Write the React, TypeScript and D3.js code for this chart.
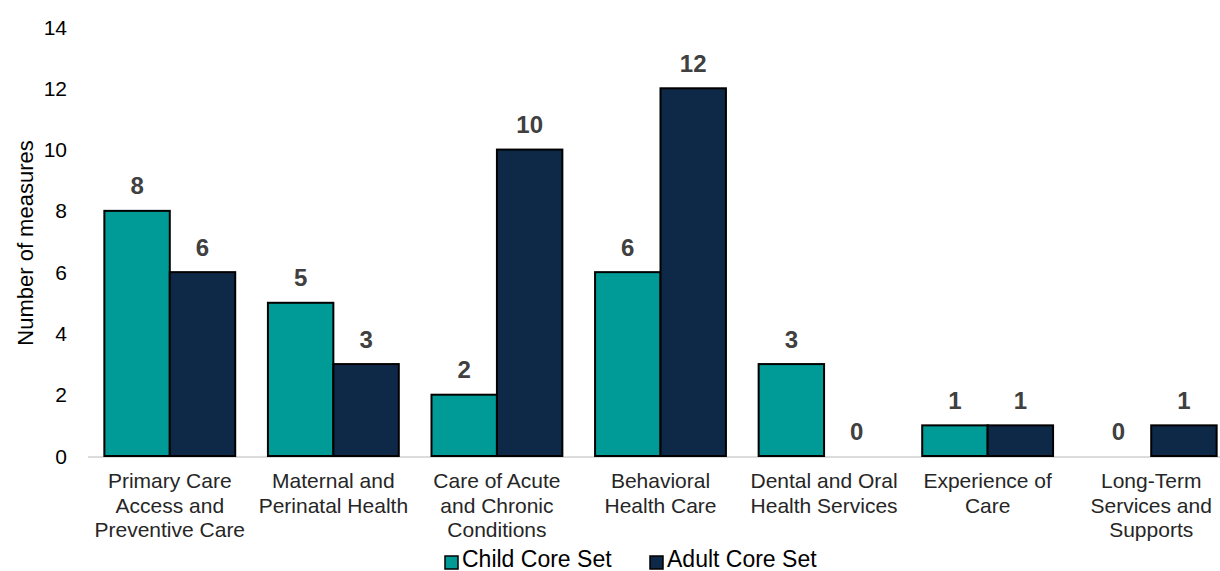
import React from "react";
import * as d3 from "d3";

const categories: string[][] = [
  ["Primary Care", "Access and", "Preventive Care"],
  ["Maternal and", "Perinatal Health"],
  ["Care of Acute", "and Chronic", "Conditions"],
  ["Behavioral", "Health Care"],
  ["Dental and Oral", "Health Services"],
  ["Experience of", "Care"],
  ["Long-Term", "Services and", "Supports"],
];
const childValues = [8, 5, 2, 6, 3, 1, 0];
const adultValues = [6, 3, 10, 12, 0, 1, 1];
const seriesNames = ["Child Core Set", "Adult Core Set"];
const seriesColors = ["#009B96", "#0E2848"];
const yTicks = [0, 2, 4, 6, 8, 10, 12, 14];

const W = 1220;
const H = 571;
const FONT = "'Liberation Sans', Arial, sans-serif";

export default function App() {
  const left = 88;
  const right = 1233;
  const top = 27;
  const bottom = 456;
  const idx = categories.map((_, i) => String(i));
  const x0 = d3.scaleBand<string>().domain(idx).range([left, right]).paddingInner(0.2).paddingOuter(0.1);
  const x1 = d3.scaleBand<string>().domain(["0", "1"]).range([0, x0.bandwidth()]);
  const y = d3.scaleLinear().domain([0, 14]).range([bottom, top]);
  const series = [childValues, adultValues];

  return (
    <svg width={W} height={H} style={{ position: "absolute", left: 0, top: 0, background: "#fff" }} fontFamily={FONT}>
      {yTicks.map((t) => (
        <text key={t} x={67} y={y(t)} dy="0.36em" textAnchor="end" fontSize={21} fill="#000">
          {t}
        </text>
      ))}
      <text transform={`translate(33,243) rotate(-90)`} textAnchor="middle" fontSize={22} fill="#000">
        Number of measures
      </text>
      <line x1={left} x2={W} y1={bottom + 1} y2={bottom + 1} stroke="#D0D0D0" strokeWidth={1.5} />
      {categories.map((c, i) => (
        <g key={i}>
          {series.map((vals, s) => {
            const v = vals[i];
            const bx = (x0(String(i)) as number) + (x1(String(s)) as number);
            const bw = x1.bandwidth();
            return (
              <g key={s}>
                {v > 0 && (
                  <rect x={bx} y={y(v)} width={bw} height={y(0) - y(v)} fill={seriesColors[s]} stroke="#000" strokeWidth={2} />
                )}
                <text x={bx + bw / 2} y={y(v) - 16.5} textAnchor="middle" fontSize={24} fontWeight="bold" fill="#404040">
                  {v}
                </text>
              </g>
            );
          })}
          <text textAnchor="middle" fontSize={21} fill="#262626">
            {c.map((line, k) => (
              <tspan key={k} x={(x0(String(i)) as number) + x0.bandwidth() / 2} y={488 + k * 24.5}>
                {line}
              </tspan>
            ))}
          </text>
        </g>
      ))}
      {seriesNames.map((n, s) => {
        const lx = s === 0 ? 445 : 650;
        return (
          <g key={n}>
            <rect x={lx} y={556} width={13} height={13} fill={seriesColors[s]} stroke="#000" strokeWidth={1.5} />
            <text x={lx + 17} y={567} fontSize={23} fill="#000">
              {n}
            </text>
          </g>
        );
      })}
    </svg>
  );
}
